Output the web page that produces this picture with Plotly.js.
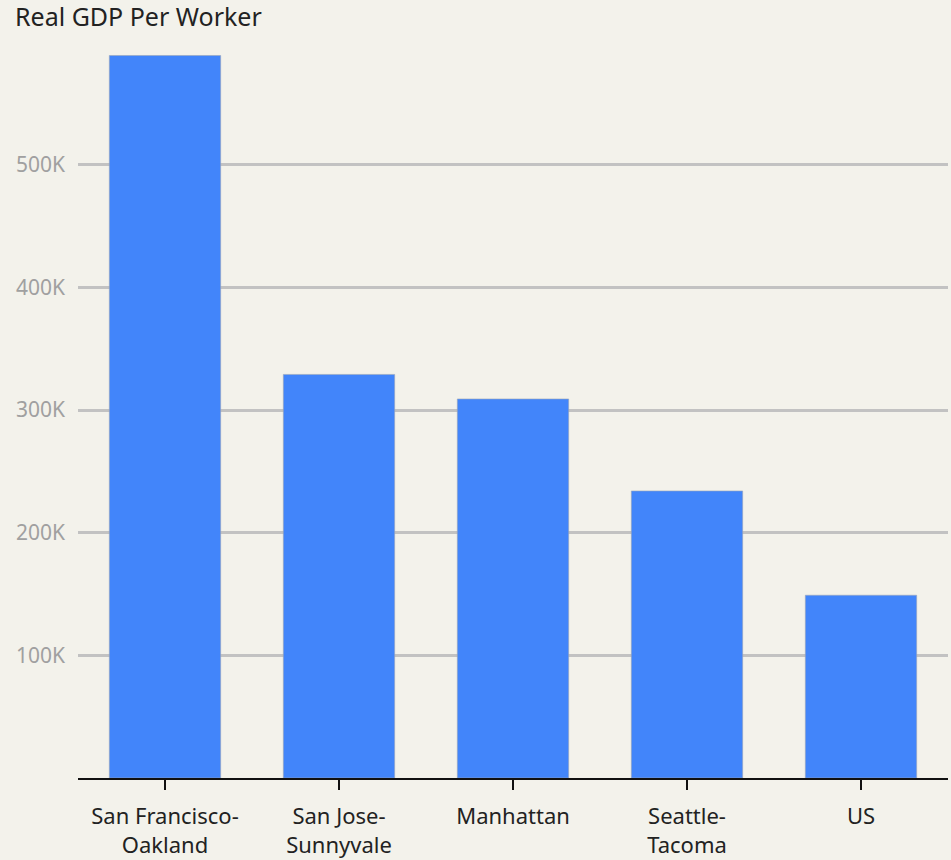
<!DOCTYPE html>
<html>
<head>
<meta charset="utf-8">
<script src="https://cdn.plot.ly/plotly-3.0.1.min.js"></script>
<style>html,body{margin:0;padding:0;background:#f3f2eb;}</style>
</head>
<body>
<div id="chart" style="width:951px;height:860px;"></div>
<script>
const categories = ["San Francisco-<br>Oakland", "San Jose-<br>Sunnyvale", "Manhattan", "Seattle-<br>Tacoma", "US"];
const gdpPerWorker = [589000, 329000, 309000, 234000, 149000];
const yTickVals = [100000, 200000, 300000, 400000, 500000];
const yTickText = ["100K", "200K", "300K", "400K", "500K"];

const fontFam = "'Source Sans Pro', 'Noto Sans', Lato, sans-serif";

const gridInner = yTickVals.map(v => ({
  type: "line", xref: "paper", yref: "y", x0: 0, x1: 1, y0: v, y1: v,
  layer: "below", line: {color: "#e4e3dc", width: 1}
}));

Plotly.newPlot("chart", [{
  type: "bar",
  x: categories,
  y: gdpPerWorker,
  marker: {color: "#4285fa", line: {color: "#9aa6b8", width: 0.6}},
  hoverinfo: "skip"
}], {
  width: 951, height: 860,
  paper_bgcolor: "#f3f2eb",
  plot_bgcolor: "#f3f2eb",
  margin: {l: 78, r: 3, t: 42, b: 82},
  bargap: 0.36,
  showlegend: false,
  font: {family: fontFam},
  shapes: gridInner,
  title: {
    text: "Real GDP Per Worker",
    font: {family: fontFam, size: 25, color: "#222"},
    xref: "container", yref: "container",
    x: 15/951, xanchor: "left",
    y: 1 - 17/860, yanchor: "middle"
  },
  xaxis: {
    showline: true, linecolor: "#111", linewidth: 2,
    ticks: "outside", ticklen: 10, tickwidth: 2, tickcolor: "#111",
    tickfont: {family: fontFam, size: 22, color: "#222"},
    ticklabelstandoff: 8,
    showgrid: false, fixedrange: true
  },
  yaxis: {
    range: [0, 600000],
    tickvals: yTickVals, ticktext: yTickText,
    tickfont: {family: fontFam, size: 21, color: "#a0a0a0"},
    showgrid: true, gridcolor: "#c2c2c2", gridwidth: 3,
    zeroline: false, showline: false, ticks: "",
    ticklabelstandoff: 12, fixedrange: true
  }
}, {displayModeBar: false, staticPlot: true});
</script>
</body>
</html>
